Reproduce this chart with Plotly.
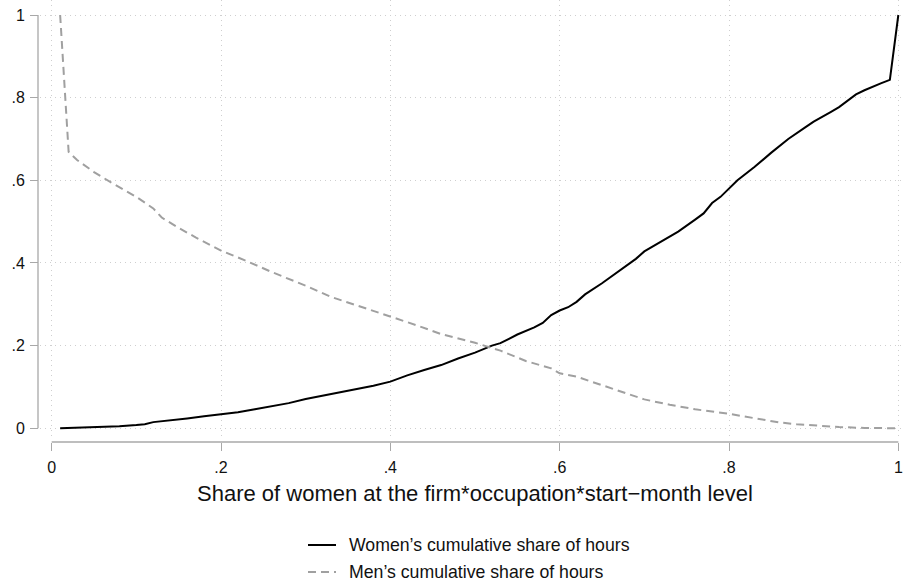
import plotly.graph_objects as go

# Data
women_x = [0.01, 0.05, 0.08, 0.10, 0.11, 0.12, 0.14, 0.16, 0.18, 0.20, 0.22, 0.24, 0.26, 0.28,
           0.30, 0.32, 0.34, 0.36, 0.38, 0.40, 0.42, 0.44, 0.46, 0.48, 0.50, 0.52, 0.53, 0.55,
           0.57, 0.58, 0.59, 0.60, 0.61, 0.62, 0.63, 0.65, 0.67, 0.69, 0.70, 0.72, 0.74, 0.76,
           0.77, 0.78, 0.79, 0.81, 0.83, 0.85, 0.87, 0.89, 0.90, 0.92, 0.93, 0.95, 0.96, 0.98,
           0.99, 1.00]
women_y = [0.000, 0.002, 0.005, 0.008, 0.010, 0.015, 0.019, 0.024, 0.029, 0.034, 0.039, 0.046,
           0.053, 0.061, 0.071, 0.079, 0.087, 0.095, 0.103, 0.113, 0.128, 0.141, 0.153, 0.169,
           0.183, 0.200, 0.206, 0.227, 0.244, 0.255, 0.274, 0.285, 0.293, 0.306, 0.324, 0.351,
           0.380, 0.410, 0.428, 0.451, 0.476, 0.505, 0.520, 0.545, 0.560, 0.600, 0.632, 0.667,
           0.700, 0.728, 0.742, 0.765, 0.777, 0.808, 0.818, 0.835, 0.843, 1.000]

men_x = [0.01, 0.02, 0.03, 0.05, 0.07, 0.09, 0.10, 0.12, 0.13, 0.15, 0.17, 0.20, 0.23, 0.26,
         0.30, 0.33, 0.36, 0.40, 0.43, 0.46, 0.50, 0.53, 0.56, 0.59, 0.60, 0.62, 0.65, 0.68,
         0.70, 0.73, 0.76, 0.80, 0.83, 0.86, 0.88, 0.90, 0.93, 0.96, 1.00]
men_y = [1.000, 0.669, 0.649, 0.620, 0.595, 0.572, 0.560, 0.532, 0.510, 0.485, 0.462, 0.430,
         0.405, 0.378, 0.345, 0.318, 0.298, 0.270, 0.250, 0.228, 0.207, 0.188, 0.163, 0.145,
         0.133, 0.125, 0.104, 0.083, 0.070, 0.057, 0.046, 0.035, 0.024, 0.014, 0.010, 0.007,
         0.003, 0.001, 0.000]

x_ticks = [0, 0.2, 0.4, 0.6, 0.8, 1]
x_labels = ["0", ".2", ".4", ".6", ".8", "1"]
y_ticks = [0, 0.2, 0.4, 0.6, 0.8, 1]
y_labels = ["0", ".2", ".4", ".6", ".8", "1"]

series_names = ["Women\u2019s cumulative share of hours", "Men\u2019s cumulative share of hours"]
x_title = "Share of women at the firm*occupation*start\u2212month level"

FONT = "Liberation Sans, Arial, Helvetica, sans-serif"
AXIS_GRAY = "#a8a8a8"
GRID = "#cfcfcf"
W_COLOR = "black"
M_COLOR = "#a0a0a0"
M_DASH = "8px,5px"

W, H = 904, 583
ML, MR, MT, MB = 38, 0, 0, 141
PW, PH = W - ML - MR, H - MT - MB


def px_x(px):
    return (px - ML) / PW


def px_y(py):
    return (H - MB - py) / PH


fig = go.Figure()
fig.add_trace(go.Scatter(x=women_x, y=women_y, mode="lines", name=series_names[0],
                         line=dict(color=W_COLOR, width=2), showlegend=False))
fig.add_trace(go.Scatter(x=men_x, y=men_y, mode="lines", name=series_names[1],
                         line=dict(color=M_COLOR, width=2, dash=M_DASH), showlegend=False))

# axis lines (only span the data range, Stata style)
fig.add_shape(type="line", xref="x", yref="paper", x0=0, x1=1, y0=0, y1=0,
              line=dict(color=AXIS_GRAY, width=1.3))
fig.add_shape(type="line", xref="paper", yref="y", x0=0, x1=0, y0=0, y1=1,
              line=dict(color=AXIS_GRAY, width=1.3))

# x-axis title
fig.add_annotation(text=x_title, xref="paper", yref="paper",
                   x=px_x(475), y=px_y(493), xanchor="center", yanchor="middle",
                   showarrow=False, font=dict(size=22, color="#111111"))

# legend (drawn manually so it sits exactly below the plot)
legend_rows = [545, 572]
legend_styles = [dict(color=W_COLOR, width=2), dict(color=M_COLOR, width=2, dash=M_DASH)]
for name, row, style in zip(series_names, legend_rows, legend_styles):
    fig.add_shape(type="line", xref="paper", yref="paper",
                  x0=px_x(308), x1=px_x(336), y0=px_y(row), y1=px_y(row), line=style)
    fig.add_annotation(text=name, xref="paper", yref="paper",
                       x=px_x(347), y=px_y(row), xanchor="left", yanchor="middle",
                       showarrow=False, font=dict(size=17.7, color="#111111"))

fig.update_layout(
    width=W, height=H,
    margin=dict(l=ML, r=MR, t=MT, b=MB),
    plot_bgcolor="white", paper_bgcolor="white",
    font=dict(family=FONT, color="#111111", size=16),
    showlegend=False,
    xaxis=dict(
        domain=[px_x(40), 1], anchor="free", position=0, automargin=False,
        range=[-0.0138, 1.0067],
        tickvals=x_ticks, ticktext=x_labels,
        showline=False, zeroline=False,
        ticks="outside", ticklen=8, tickcolor=AXIS_GRAY, tickwidth=1.3,
        ticklabelstandoff=3,
        showgrid=True, gridcolor=GRID, griddash="1px,4px", gridwidth=1,
        tickfont=dict(size=16),
    ),
    yaxis=dict(
        domain=[px_y(437), 1], anchor="free", position=0, automargin=False,
        range=[-0.021, 1.0363],
        tickvals=y_ticks, ticktext=y_labels,
        showline=False, zeroline=False,
        ticks="outside", ticklen=8, tickcolor=AXIS_GRAY, tickwidth=1.3,
        ticklabelstandoff=2,
        showgrid=True, gridcolor=GRID, griddash="1px,4px", gridwidth=1,
        tickfont=dict(size=16),
    ),
)

fig.write_html("out.html", config={"displayModeBar": False},
               post_script="document.body.style.margin='0';document.body.style.padding='0';")
